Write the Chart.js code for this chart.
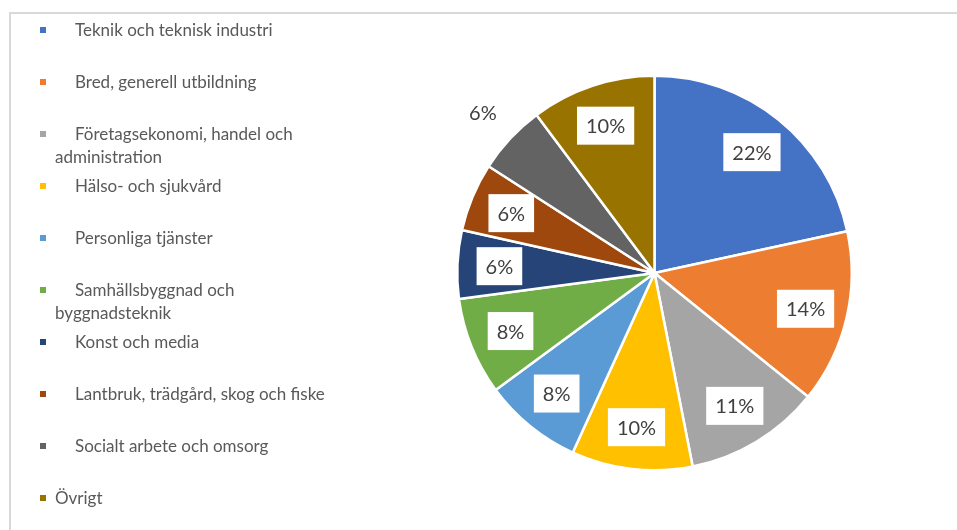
<!DOCTYPE html>
<html>
<head>
<meta charset="utf-8">
<script src="https://cdn.jsdelivr.net/npm/chart.js@4"></script>
<style>
    body { margin: 0; background: #fff; }
    #wrap { position: relative; width: 957px; height: 530px; overflow: hidden; }
    #frame { position: absolute; left: 9px; top: 12px; width: 1000px; height: 600px; border: 2px solid #d9d9d9; box-sizing: border-box; }
    #pie { position: absolute; left: 0; top: 0; }
    #legend { position: absolute; left: 0; top: 0; font-family: Lato, sans-serif; font-size: 17px; color: #595959; }
    .item { position: absolute; left: 55px; width: 300px; line-height: 23px; text-indent: 20px; }
    .item.plain { text-indent: 0; }
    .mark { position: absolute; left: -15px; top: 9px; width: 6px; height: 6px; }
</style>
</head>
<body>
<div id="wrap">
    <div id="frame"></div>
    <canvas id="pie" width="957" height="530"></canvas>
    <div id="legend"></div>
</div>
<script>
const categories = [
    ['Teknik och teknisk industri'],
    ['Bred, generell utbildning'],
    ['Företagsekonomi, handel och', 'administration'],
    ['Hälso- och sjukvård'],
    ['Personliga tjänster'],
    ['Samhällsbyggnad och', 'byggnadsteknik'],
    ['Konst och media'],
    ['Lantbruk, trädgård, skog och fiske'],
    ['Socialt arbete och omsorg'],
    ['Övrigt']
];
const shares = [21.6, 14.2, 11.1, 9.9, 8.1, 8.0, 5.6, 5.6, 5.7, 10.2];
const colors = ['#4472C4', '#ED7D31', '#A5A5A5', '#FFC000', '#5B9BD5', '#70AD47', '#264478', '#9E480E', '#636363', '#997300'];

// the one label Excel put outside the pie
const outsideIdx = 8;

const total = shares.reduce((a, b) => a + b, 0);

// HTML legend, wrapped like the original
const legend = document.getElementById('legend');
categories.forEach((lines, i) => {
    const div = document.createElement('div');
    div.className = 'item' + (i === categories.length - 1 ? ' plain' : '');
    div.style.top = (30 + 52 * i - 12) + 'px';
    div.innerHTML = `<span class="mark" style="background:${colors[i]}"></span>` + lines.join('<br>');
    legend.appendChild(div);
});

const boxLabels = {
    id: 'boxLabels',
    afterDatasetsDraw(chart) {
        const ctx = chart.ctx;
        const meta = chart.getDatasetMeta(0);
        ctx.save();
        ctx.font = '20px Lato';
        ctx.textAlign = 'center';
        ctx.textBaseline = 'middle';
        meta.data.forEach((arc, i) => {
            const { x, y, startAngle, endAngle, outerRadius } = arc.getProps(['x', 'y', 'startAngle', 'endAngle', 'outerRadius'], true);
            const mid = (startAngle + endAngle) / 2;
            const txt = Math.round(shares[i] / total * 100) + '%';
            const r = i === outsideIdx ? outerRadius * 1.19 : outerRadius * 0.787;
            const cx = x + Math.cos(mid) * r;
            const cy = y + Math.sin(mid) * r;
            if (i !== outsideIdx) {
                const w = ctx.measureText(txt).width + 18;
                ctx.fillStyle = '#fff';
                ctx.fillRect(cx - w / 2, cy - 19, w, 38);
            }
            ctx.fillStyle = '#404040';
            ctx.fillText(txt, cx, cy + 1);
        });
        ctx.restore();
    }
};

new Chart(document.getElementById('pie'), {
    type: 'pie',
    data: {
        labels: categories.map(l => l.join(' ')),
        datasets: [{
            data: shares,
            backgroundColor: colors,
            borderColor: '#fff',
            borderWidth: 2.5
        }]
    },
    options: {
        responsive: false,
        animation: false,
        layout: { padding: { left: 456, right: 104, top: 74, bottom: 58 } },
        plugins: {
            legend: { display: false },
            tooltip: { enabled: false }
        }
    },
    plugins: [boxLabels]
});
</script>
</body>
</html>
